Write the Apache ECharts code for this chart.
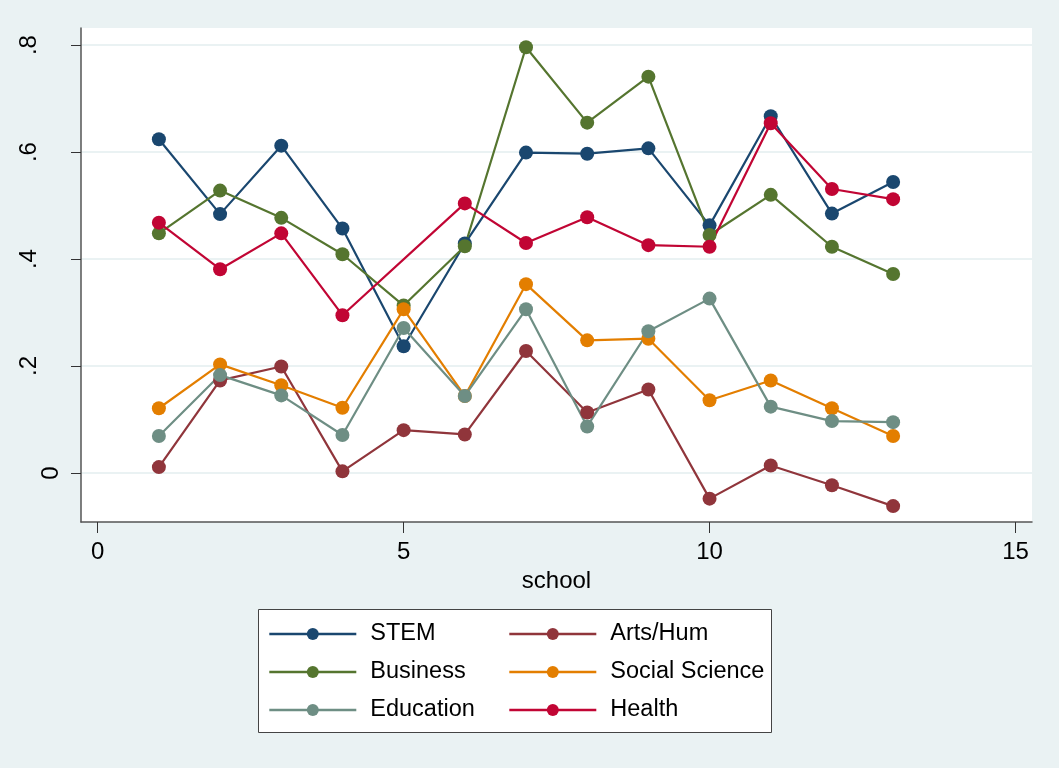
<!DOCTYPE html>
<html>
<head>
<meta charset="utf-8">
<script src="https://cdn.jsdelivr.net/npm/echarts@6/dist/echarts.min.js"></script>
<style>
  html, body { margin: 0; padding: 0; background: #fff; }
  #main { width: 1059px; height: 768px; }
</style>
</head>
<body>
<div id="main"></div>
<script>
// school share by field
var schools = [1, 2, 3, 4, 5, 6, 7, 8, 9, 10, 11, 12, 13];
var stem = [0.624, 0.484, 0.612, 0.457, 0.237, 0.429, 0.599, 0.597, 0.607, 0.463, 0.667, 0.485, 0.544];
var artsHum = [0.011, 0.173, 0.199, 0.003, 0.080, 0.072, 0.228, 0.113, 0.156, -0.048, 0.014, -0.023, -0.062];
var business = [0.448, 0.528, 0.477, 0.409, 0.313, 0.424, 0.796, 0.655, 0.741, 0.445, 0.520, 0.423, 0.372];
var socSci = [0.121, 0.203, 0.164, 0.122, 0.306, 0.144, 0.353, 0.248, 0.251, 0.136, 0.173, 0.121, 0.069];
var education = [0.069, 0.183, 0.145, 0.071, 0.271, 0.144, 0.306, 0.087, 0.265, 0.326, 0.124, 0.097, 0.095];
var health = [0.468, 0.381, 0.448, 0.295, null, 0.504, 0.430, 0.478, 0.426, 0.423, 0.654, 0.531, 0.512];

var xTicks = [0, 5, 10, 15];
var yTicks = [0, 0.2, 0.4, 0.6, 0.8];

var font = 'Liberation Sans, Arial, Helvetica, sans-serif';

function pairs(vals) {
    var out = [];
    for (var i = 0; i < schools.length; i++) {
        out.push([schools[i], vals[i]]);
    }
    return out;
}

function mkSeries(name, vals, color) {
    return {
        name: name,
        type: 'line',
        data: pairs(vals),
        connectNulls: true,
        symbol: 'circle',
        symbolSize: 14,
        lineStyle: { color: color, width: 2.2 },
        itemStyle: { color: color },
        emphasis: { disabled: true }
    };
}

var legendBase = {
    orient: 'vertical',
    top: 622,
    padding: 0,
    itemWidth: 87,
    itemHeight: 15,
    itemGap: 14,
    lineStyle: { width: 2.6 },
    textStyle: { fontSize: 23.5, color: '#000', fontFamily: font, padding: [0, 0, 0, 9] }
};

var chart = echarts.init(document.getElementById('main'));
option = {
    animation: false,
    backgroundColor: '#eaf2f3',
    textStyle: { fontFamily: font },
    grid: {
        left: 81,
        top: 28,
        right: 27,
        bottom: 246,
        show: true,
        backgroundColor: '#ffffff',
        borderWidth: 0
    },
    graphic: [{
        type: 'rect',
        z: 0,
        shape: { x: 258.5, y: 609.5, width: 513, height: 123 },
        style: { fill: '#ffffff', stroke: '#444', lineWidth: 1 }
    }],
    legend: [
        Object.assign({}, legendBase, { data: ['STEM', 'Business', 'Education'], left: 268 }),
        Object.assign({}, legendBase, { data: ['Arts/Hum', 'Social Science', 'Health'], left: 508 })
    ],
    xAxis: {
        type: 'value',
        min: -0.273,
        max: 15.27,
        name: 'school',
        nameLocation: 'middle',
        nameGap: 44,
        nameTextStyle: { fontSize: 24, color: '#000', fontFamily: font },
        axisLine: { show: true, onZero: false, lineStyle: { color: '#555', width: 1.5 } },
        axisTick: { show: true, length: 11, customValues: xTicks, lineStyle: { color: '#333' } },
        axisLabel: {
            customValues: xTicks,
            margin: 18,
            fontSize: 24,
            color: '#000',
            fontFamily: font
        },
        splitLine: { show: false }
    },
    yAxis: {
        type: 'value',
        min: -0.0917,
        max: 0.832,
        axisLine: { show: true, onZero: false, lineStyle: { color: '#555', width: 1.5 } },
        axisTick: { show: true, length: 10, customValues: yTicks, lineStyle: { color: '#333' } },
        axisLabel: {
            customValues: yTicks,
            rotate: 90,
            margin: 19,
            fontSize: 24,
            lineHeight: 22,
            color: '#000',
            fontFamily: font,
            formatter: function (v) {
                if (v === 0) {
                    return '0';
                }
                return String(Math.round(v * 10) / 10).replace(/^0/, '') + '\n';
            }
        },
        splitLine: { show: true, lineStyle: { color: '#eaf2f3', width: 2 } }
    },
    series: [
        mkSeries('STEM', stem, '#1a476f'),
        mkSeries('Arts/Hum', artsHum, '#90353b'),
        mkSeries('Business', business, '#55752f'),
        mkSeries('Social Science', socSci, '#e37e00'),
        mkSeries('Education', education, '#6e8e84'),
        mkSeries('Health', health, '#c10534')
    ]
};
chart.setOption(option);
</script>
</body>
</html>
